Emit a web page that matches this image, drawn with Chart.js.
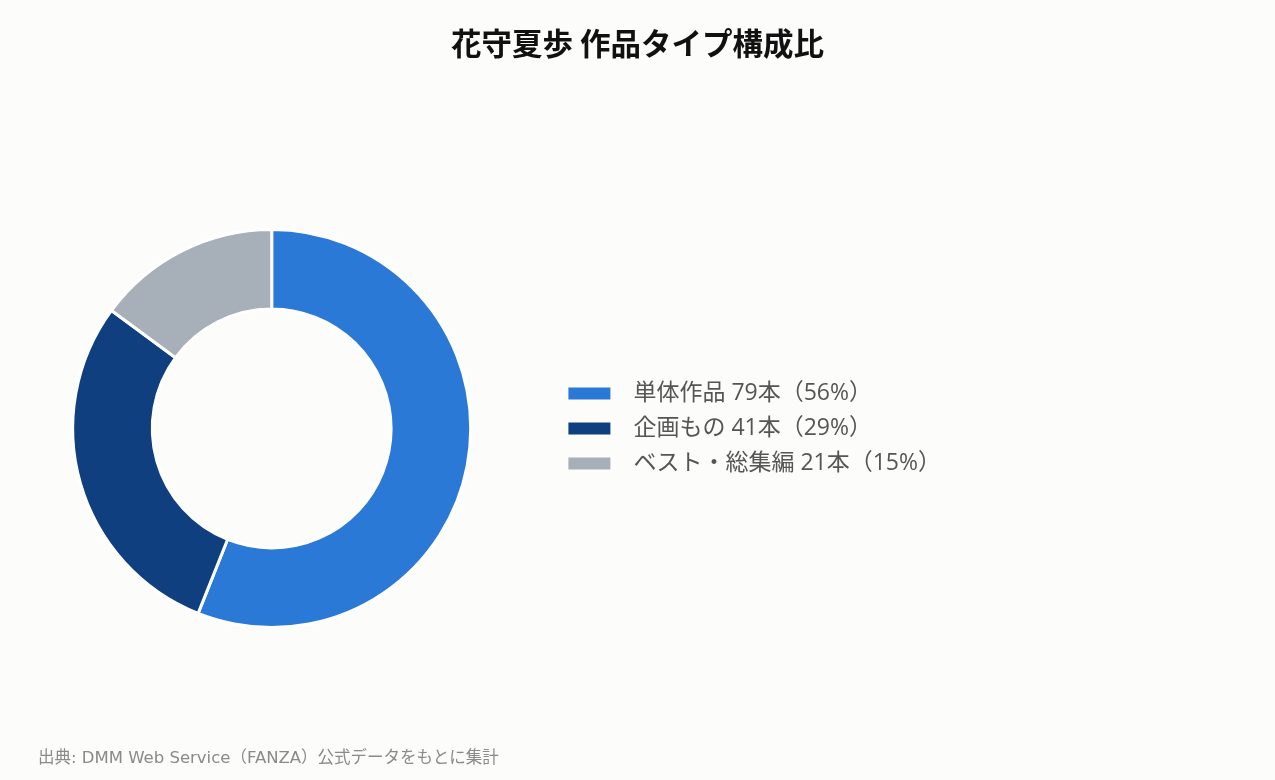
<!DOCTYPE html>
<html lang="ja">
<head>
<meta charset="utf-8">
<script src="https://cdn.jsdelivr.net/npm/chart.js@4"></script>
<style>
  html, body { margin: 0; padding: 0; background: #fcfcfb; overflow: hidden; }
  #wrap { position: relative; width: 1275px; height: 780px; background: #fcfcfb; font-family: "Noto Sans CJK JP", "Noto Sans", sans-serif; overflow: hidden; }
  #title { position: absolute; left: 0; top: 22px; width: 1275px; text-align: center; font-size: 30.5px; font-weight: bold; color: #111; line-height: 40px; }
  #src { position: absolute; left: 38px; top: 746px; font-size: 16.5px; color: #8a8a8a; line-height: 24px; white-space: nowrap; font-family: "DejaVu Sans", "Noto Sans CJK JP", sans-serif; }
  #cv { position: absolute; left: -13px; top: 0; }
</style>
</head>
<body>
<div id="wrap">
  <canvas id="cv" width="1288" height="780"></canvas>
  <div id="title">花守夏歩 作品タイプ構成比</div>
  <div id="src">出典: DMM Web Service（FANZA）公式データをもとに集計</div>
</div>
<script>
const categories = ["単体作品", "企画もの", "ベスト・総集編"];
const counts = [79, 41, 21];
const percents = [56, 29, 15];
const colors = ["#2a79d6", "#0f3f7f", "#a7afb9"];

const labels = categories.map((c, i) => `${c} ${counts[i]}本（${percents[i]}%）`);

const ctx = document.getElementById('cv').getContext('2d');
new Chart(ctx, {
  type: 'doughnut',
  data: {
    labels: labels,
    datasets: [{
      data: counts,
      backgroundColor: colors,
      borderColor: '#ffffff',
      borderWidth: 3,
      hoverOffset: 0
    }]
  },
  options: {
    responsive: false,
    animation: false,
    cutout: '60%',
    layout: { padding: { left: 0, right: 324, top: 228, bottom: 151 } },
    plugins: {
      title: { display: false },
      tooltip: { enabled: false },
      legend: {
        position: 'right',
        align: 'center',
        labels: {
          boxWidth: 42,
          boxHeight: 12,
          padding: 12,
          color: '#555555',
          font: { family: '"Open Sans", "Noto Sans CJK JP", sans-serif', size: 23 },
          generateLabels(chart) {
            const ds = chart.data.datasets[0];
            return chart.data.labels.map((l, i) => ({
              text: '\u2002' + l,
              fillStyle: ds.backgroundColor[i],
              strokeStyle: ds.backgroundColor[i],
              lineWidth: 0,
              fontColor: '#555555',
              index: i,
              hidden: false
            }));
          }
        }
      }
    }
  }
});
</script>
</body>
</html>
